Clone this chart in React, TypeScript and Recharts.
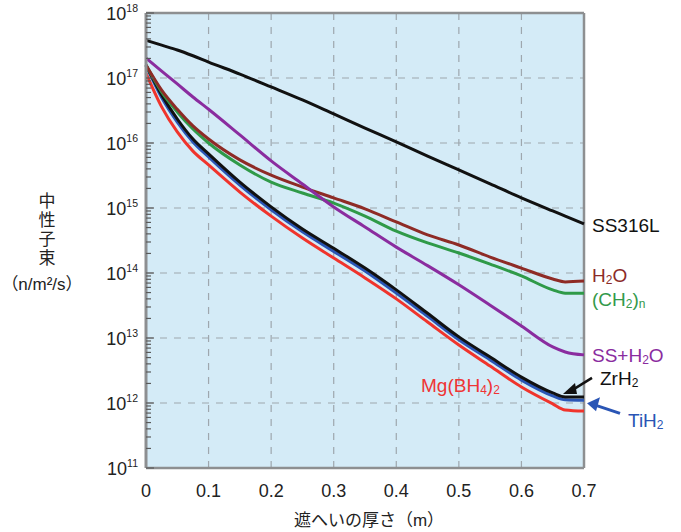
import React from 'react';
import { LineChart, Line, XAxis, YAxis, CartesianGrid, ReferenceLine } from 'recharts';

// shielding thickness (m)
const thickness = [0, 0.025, 0.05, 0.075, 0.1, 0.15, 0.2, 0.25, 0.3, 0.35, 0.4, 0.45, 0.5, 0.55, 0.6, 0.65, 0.67, 0.7];

// neutron flux (n/m2/s)
const ss316l = [3.8e17, 3.2e17, 2.7e17, 2.2e17, 1.76e17, 1.15e17, 7.3e16, 4.6e16, 2.8e16, 1.7e16, 1.04e16, 6.3e15, 3.85e15, 2.35e15, 1.43e15, 9.0e14, 7.5e14, 5.7e14];
const h2o = [1.58e17, 6.5e16, 3.3e16, 1.83e16, 1.15e16, 5.5e15, 3.2e15, 2.1e15, 1.43e15, 9.7e14, 6.1e14, 3.85e14, 2.7e14, 1.76e14, 1.19e14, 8.1e13, 7.3e13, 7.5e13];
const ch2n = [1.58e17, 6.1e16, 3.0e16, 1.64e16, 1.0e16, 4.6e15, 2.5e15, 1.7e15, 1.19e15, 7.5e14, 4.4e14, 2.9e14, 2.03e14, 1.37e14, 9.0e13, 5.5e13, 4.9e13, 4.9e13];
const ssH2o = [2.03e17, 1.28e17, 8.1e16, 5.1e16, 3.3e16, 1.33e16, 5.3e15, 2.34e15, 1.04e15, 5.1e14, 2.5e14, 1.3e14, 6.6e13, 3.2e13, 1.53e13, 7.3e12, 6.1e12, 5.5e12];
const zrh2 = [1.58e17, 5.5e16, 2.34e16, 1.15e16, 6.8e15, 2.5e15, 1.04e15, 4.75e14, 2.4e14, 1.19e14, 5.5e13, 2.4e13, 1.04e13, 5.1e12, 2.5e12, 1.43e12, 1.24e12, 1.24e12];
const tih2 = [1.55e17, 5.0e16, 2.1e16, 1.04e16, 6.1e15, 2.25e15, 9.4e14, 4.3e14, 2.15e14, 1.07e14, 4.9e13, 2.15e13, 9.4e12, 4.6e12, 2.25e12, 1.29e12, 1.12e12, 1.1e12];
const mgbh4 = [1.19e17, 3.6e16, 1.48e16, 7.5e15, 4.6e15, 1.76e15, 7.5e14, 3.45e14, 1.7e14, 8.4e13, 4.0e13, 1.76e13, 7.8e12, 3.7e12, 1.76e12, 9.7e11, 7.8e11, 7.5e11];

const xTicks = [0, 0.1, 0.2, 0.3, 0.4, 0.5, 0.6, 0.7];
const xTickLabels = ['0', '0.1', '0.2', '0.3', '0.4', '0.5', '0.6', '0.7'];
const decadeExponents = [11, 12, 13, 14, 15, 16, 17, 18];
const decadeTicks = decadeExponents.map((e) => Math.pow(10, e));
const minorMultipliers = [2, 3, 4, 5, 6, 7, 8, 9];

const allYTicks: number[] = [];
decadeExponents.forEach((e) => {
  allYTicks.push(Math.pow(10, e));
  if (e < 18) minorMultipliers.forEach((m) => allYTicks.push(m * Math.pow(10, e)));
});

const data = thickness.map((t, i) => ({
  t,
  ss316l: ss316l[i],
  h2o: h2o[i],
  ch2n: ch2n[i],
  ssH2o: ssH2o[i],
  zrh2: zrh2[i],
  tih2: tih2[i],
  mgbh4: mgbh4[i],
}));

const LAST = thickness.length - 1;
const LATIN = 'Liberation Sans, Arial, Helvetica, sans-serif';
const CJK = 'Liberation Sans, "Noto Sans CJK JP", sans-serif';
const FRAME = '#8d8f91';
const SUB = 12;

const getXY = (p: any) => {
  const x = p.x ?? p.viewBox?.x;
  const y = p.y ?? p.viewBox?.y;
  return { x, y };
};

const makeLabel = (kind: string) => (p: any) => {
  if (p.index !== LAST) return <g />;
  const { x, y } = getXY(p);
  if (x == null || y == null) return <g />;
  const common = { fontFamily: LATIN, fontSize: 19 };
  switch (kind) {
    case 'ss316l':
      return <text x={x + 8} y={y + 8} fill="#111" {...common}>SS316L</text>;
    case 'h2o':
      return (
        <text x={x + 8} y={y + 1} fill="#8c2b27" {...common}>
          H<tspan dy={2} fontSize={SUB}>2</tspan><tspan dy={-2}>O</tspan>
        </text>
      );
    case 'ch2n':
      return (
        <text x={x + 8} y={y + 13} fill="#33994a" {...common}>
          (CH<tspan dy={2} fontSize={SUB}>2</tspan><tspan dy={-2}>)</tspan><tspan dy={2} fontSize={SUB}>n</tspan>
        </text>
      );
    case 'ssH2o':
      return (
        <text x={x + 8} y={y + 7} fill="#8a2c9f" {...common}>
          SS+H<tspan dy={2} fontSize={SUB}>2</tspan><tspan dy={-2}>O</tspan>
        </text>
      );
    case 'zrh2':
      return (
        <g>
          <line x1={x + 8} y1={y - 19} x2={x - 13} y2={y - 6} stroke="#111" strokeWidth={2.5} />
          <polygon points={`${x - 21},${y - 3} ${x - 9},${y - 14} ${x - 7},${y - 3}`} fill="#111" />
          <text x={x + 16} y={y - 12} fill="#111" {...common}>
            ZrH<tspan dy={2} fontSize={SUB}>2</tspan>
          </text>
        </g>
      );
    case 'tih2':
      return (
        <g>
          <line x1={x + 36} y1={y + 13} x2={x + 12} y2={y + 5} stroke="#2a55b5" strokeWidth={3} />
          <polygon points={`${x + 3},${y + 3} ${x + 16},${y - 3} ${x + 12},${y + 11}`} fill="#2a55b5" />
          <text x={x + 44} y={y + 27} fill="#2a55b5" {...common}>
            TiH<tspan dy={2} fontSize={SUB}>2</tspan>
          </text>
        </g>
      );
    case 'mgbh4':
      return (
        <text x={x - 163} y={y - 19} fill="#ef3434" {...common}>
          Mg(BH<tspan dy={2} fontSize={SUB}>4</tspan><tspan dy={-2}>)</tspan><tspan dy={2} fontSize={SUB}>2</tspan>
        </text>
      );
    default:
      return <g />;
  }
};

const YTick = (props: any) => {
  const { x, y, payload } = props;
  const v = payload.value as number;
  const exp = Math.round(Math.log10(v));
  const isMajor = Math.abs(v - Math.pow(10, exp)) / v < 1e-6;
  return (
    <g>
      <line x1={x} x2={x + (isMajor ? 8 : 5)} y1={y} y2={y} stroke="#5a5a5a" strokeWidth={1.2} />
      {isMajor && (
        <text x={x - 8} y={y + 7} textAnchor="end" fontSize={18} fill="#222" fontFamily={LATIN}>
          10<tspan dy={-8} fontSize={10.5}>{exp}</tspan>
        </text>
      )}
    </g>
  );
};

const XTick = (props: any) => {
  const { x, y, payload } = props;
  const idx = xTicks.indexOf(payload.value);
  return (
    <text x={x} y={y + 29} textAnchor="middle" fontSize={18} fill="#222" fontFamily={LATIN}>
      {idx >= 0 ? xTickLabels[idx] : String(payload.value)}
    </text>
  );
};

const YTitle = (props: any) => {
  const vb = props.viewBox || { x: 0, y: 13, width: 146, height: 455 };
  const cx = vb.x + 47;
  const cy = vb.y + vb.height / 2;
  return (
    <g>
      <text
        x={cx}
        y={cy - 48}
        writingMode="tb"
        fontSize={17}
        letterSpacing={2}
        fill="#222"
        fontFamily='"Noto Sans CJK JP", sans-serif'
      >
        中性子束
      </text>
      <text x={cx - 5} y={cy + 49} textAnchor="middle" fontSize={17} fill="#222" fontFamily={CJK}>
        （n/m²/s）
      </text>
    </g>
  );
};

const XTitle = (props: any) => {
  const vb = props.viewBox || { x: 146, y: 468, width: 438, height: 64 };
  return (
    <text x={vb.x + vb.width / 2 + 4} y={vb.y + 58} textAnchor="middle" fontSize={17} fill="#222" fontFamily={CJK}>
      遮へいの厚さ（m）
    </text>
  );
};

const series = [
  { key: 'mgbh4', color: '#f0342c' },
  { key: 'tih2', color: '#2a55b5' },
  { key: 'zrh2', color: '#111111' },
  { key: 'ch2n', color: '#2f9a48' },
  { key: 'h2o', color: '#8e2b26' },
  { key: 'ssH2o', color: '#8a2c9f' },
  { key: 'ss316l', color: '#111111' },
];

export default function App() {
  return (
    <div style={{ position: 'absolute', left: 0, top: 0, width: 681, height: 532 }}>
      <LineChart width={681} height={532} data={data} margin={{ top: 13, right: 97, bottom: 0, left: 0 }}>
        <CartesianGrid
          fill="#d4ebf7"
          fillOpacity={1}
          stroke="#9ea7ae"
          strokeWidth={1.2}
          strokeDasharray="7 7"
          horizontalValues={decadeTicks}
          verticalValues={xTicks}
        />
        <XAxis
          dataKey="t"
          type="number"
          domain={[0, 0.7]}
          ticks={xTicks}
          interval={0}
          tickLine={false}
          tickSize={0}
          tickMargin={0}
          tick={<XTick />}
          axisLine={{ stroke: FRAME, strokeWidth: 2.5 }}
          height={64}
          label={{ content: XTitle }}
        />
        <YAxis
          type="number"
          scale="log"
          domain={[1e11, 1e18]}
          allowDataOverflow
          ticks={allYTicks}
          interval={0}
          tickLine={false}
          tickSize={0}
          tickMargin={0}
          tick={<YTick />}
          axisLine={{ stroke: FRAME, strokeWidth: 3 }}
          width={146}
          label={{ content: YTitle }}
        />
        <ReferenceLine y={1e18} stroke={FRAME} strokeWidth={2.5} />
        <ReferenceLine x={0.7} stroke={FRAME} strokeWidth={2.5} />
        {series.map((s) => (
          <Line
            key={s.key}
            dataKey={s.key}
            type="monotone"
            stroke={s.color}
            strokeWidth={3}
            dot={false}
            isAnimationActive={false}
            label={makeLabel(s.key)}
          />
        ))}
      </LineChart>
    </div>
  );
}
